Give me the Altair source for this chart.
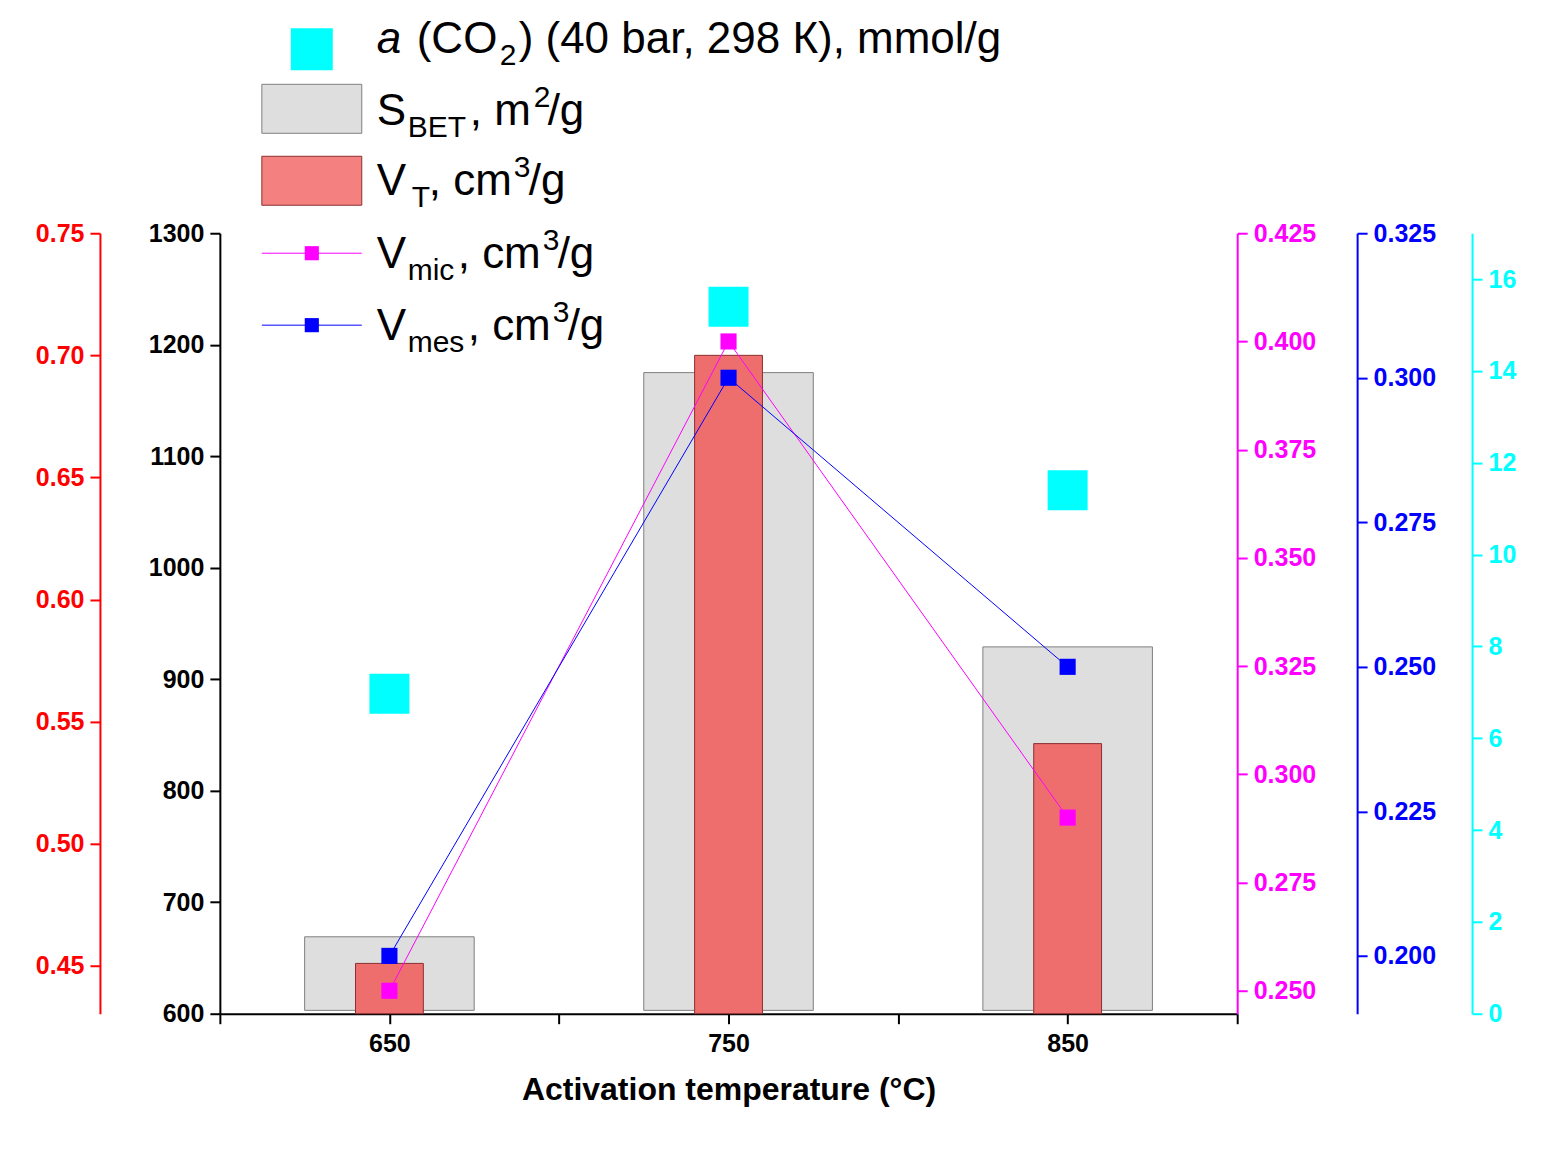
import pandas as pd
import altair as alt

temps = [650, 750, 850]
s_bet = [669, 1175, 929]
v_t = [0.451, 0.700, 0.541]
v_mic = [0.250, 0.400, 0.290]
v_mes = [0.200, 0.300, 0.250]
a_co2 = [6.97, 15.4, 11.4]

df = pd.DataFrame({"T": temps, "S": s_bet, "VT": v_t, "Vmic": v_mic,
                   "Vmes": v_mes, "a": a_co2})
df["gx1"] = df["T"] - 25
df["gx2"] = df["T"] + 25
df["rx1"] = df["T"] - 10
df["rx2"] = df["T"] + 10

W, H = 1018, 781
FONT = "Liberation Sans"

x_axis = alt.Axis(title="Activation temperature (°C)", values=[600, 650, 700, 750, 800, 850, 900],
                  labelExpr="datum.value % 100 == 50 ? datum.label : ''",
                  titleFontSize=32, titleFont=FONT, titleFontWeight="bold", titlePadding=18,
                  labelFontSize=25, labelFontWeight="bold", labelFont=FONT, labelPadding=8,
                  tickSize=10, tickWidth=2, domainWidth=2, domainColor="black",
                  tickColor="black", labelColor="black", titleColor="black", grid=False)


def xq(field):
    return alt.X(f"{field}:Q", scale=alt.Scale(domain=[600, 900], nice=False, zero=False), axis=x_axis)


def yaxis(color, orient, offset, values, fmt):
    return alt.Axis(title=None, orient=orient, offset=offset, values=values, format=fmt,
                    domainColor=color, tickColor=color, labelColor=color,
                    labelFontSize=25, labelFontWeight="bold", labelFont=FONT, labelPadding=6,
                    tickSize=10, domainWidth=2, tickWidth=2, grid=False)


base = alt.Chart(df)

gray = base.mark_bar(color="#dedede", stroke="#808080", strokeWidth=1).encode(
    x=xq("gx1"), x2="gx2:Q",
    y=alt.Y("S:Q", scale=alt.Scale(domain=[600, 1300], nice=False, zero=False),
            axis=yaxis("black", "left", 0, list(range(600, 1301, 100)), "d")),
    y2=alt.datum(603),
)

red = base.mark_bar(color="#ee6e6e", stroke="#8b3030", strokeWidth=1).encode(
    x=xq("rx1"), x2="rx2:Q",
    y=alt.Y("VT:Q", scale=alt.Scale(domain=[0.4304, 0.75], nice=False, zero=False),
            axis=yaxis("red", "left", 120, [0.45, 0.5, 0.55, 0.6, 0.65, 0.7, 0.75], ".2f")),
    y2=alt.value(H),
)

mic = base.mark_line(color="magenta", strokeWidth=1,
                     point=alt.OverlayMarkDef(shape="square", size=260, color="magenta", opacity=1)).encode(
    x=xq("T"),
    y=alt.Y("Vmic:Q", scale=alt.Scale(domain=[0.2447, 0.425], nice=False, zero=False),
            axis=yaxis("magenta", "right", 0, [0.25, 0.275, 0.3, 0.325, 0.35, 0.375, 0.4, 0.425], ".3f")),
)

mes = base.mark_line(color="blue", strokeWidth=1,
                     point=alt.OverlayMarkDef(shape="square", size=260, color="blue", opacity=1)).encode(
    x=xq("T"),
    y=alt.Y("Vmes:Q", scale=alt.Scale(domain=[0.19, 0.325], nice=False, zero=False),
            axis=yaxis("blue", "right", 120, [0.2, 0.225, 0.25, 0.275, 0.3, 0.325], ".3f")),
)

co2 = base.mark_point(shape="square", filled=True, size=1600, color="cyan", opacity=1).encode(
    x=xq("T"),
    y=alt.Y("a:Q", scale=alt.Scale(domain=[0, 17], nice=False, zero=True),
            axis=yaxis("cyan", "right", 235, list(range(0, 17, 2)), "d")),
)

one = alt.Chart(pd.DataFrame({"k": [0]}))


def txt(s, px, py, size=44, style="normal"):
    return one.mark_text(align="left", baseline="alphabetic", fontSize=size, font=FONT,
                         fontStyle=style, color="black").encode(
        x=alt.value(px), y=alt.value(py), text=alt.value(s))


def sub(s, px, py):
    return txt(s, px, py + 12, 30)


def sup(s, px, py):
    return txt(s, px, py - 18, 30)


L1, L2, L3, L4, L5 = -180, -108, -38, 35, 107

legend = [
    one.mark_point(shape="square", filled=True, size=1764, color="cyan", opacity=1).encode(
        x=alt.value(92), y=alt.value(-184)),
    txt("a", 157, L1, style="italic"), txt("(CO", 197, L1), sub("2", 280, L1),
    txt(") (40 bar, 298 К), mmol/g", 299, L1),
    one.mark_rect(color="#dedede", stroke="#808080").encode(
        x=alt.value(42), x2=alt.value(142), y=alt.value(-149), y2=alt.value(-100)),
    txt("S", 157, L2), sub("BET", 188, L2), txt(", m", 250, L2), sup("2", 314, L2),
    txt("/g", 328, L2),
    one.mark_rect(color="#f58080", stroke="#8b3030").encode(
        x=alt.value(42), x2=alt.value(142), y=alt.value(-77), y2=alt.value(-28)),
    txt("V", 157, L3), sub("T", 192, L3), txt(", cm", 209, L3), sup("3", 294, L3),
    txt("/g", 309, L3),
    one.mark_rule(color="magenta", strokeWidth=1).encode(
        x=alt.value(42), x2=alt.value(142), y=alt.value(20)),
    one.mark_point(shape="square", filled=True, size=200, color="magenta", opacity=1).encode(
        x=alt.value(92), y=alt.value(20)),
    txt("V", 157, L4), sub("mic", 188, L4), txt(", cm", 238, L4), sup("3", 323, L4),
    txt("/g", 338, L4),
    one.mark_rule(color="blue", strokeWidth=1).encode(
        x=alt.value(42), x2=alt.value(142), y=alt.value(92)),
    one.mark_point(shape="square", filled=True, size=200, color="blue", opacity=1).encode(
        x=alt.value(92), y=alt.value(92)),
    txt("V", 157, L5), sub("mes", 188, L5), txt(", cm", 248, L5), sup("3", 333, L5),
    txt("/g", 348, L5),
]

chart = alt.layer(gray, red, mic, mes, co2, *legend).resolve_scale(y="independent").properties(
    width=W, height=H, autosize=alt.AutoSizeParams(type="none"),
    padding={"left": 212, "top": 225, "right": 300, "bottom": 140},
).configure_view(stroke=None)

chart.save("out.html", embed_options={"renderer": "svg", "actions": False})
